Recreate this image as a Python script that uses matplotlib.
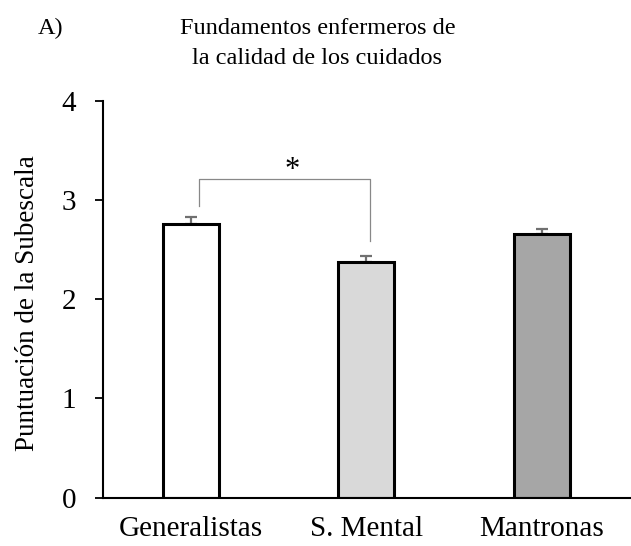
import numpy as np
import matplotlib.pyplot as plt

plt.rcParams['font.family'] = ['Liberation Serif', 'DejaVu Serif']

# Puntuaciones medias por grupo y error estándar (solo hacia arriba)
grupos = ['Generalistas', 'S. Mental', 'Mantronas']
medias = [2.76, 2.38, 2.66]
errores = [0.07, 0.06, 0.05]
colores = ['#ffffff', '#d9d9d9', '#a6a6a6']

# Corchete de significación entre Generalistas y S. Mental
corchete_x = [0.05, 0.05, 1.02, 1.02]
corchete_y = [2.94, 3.21, 3.21, 2.59]

fig = plt.figure(figsize=(6.31, 5.46), dpi=100)
ax = fig.add_axes([0.163, 0.0888, 0.835, 0.726])

x = np.arange(len(grupos))
ax.errorbar(x, medias, yerr=[np.zeros(len(errores)), errores], fmt='none',
            ecolor='#707070', elinewidth=1.6, capsize=4.5, capthick=1.6, zorder=1)
ax.bar(x, medias, width=0.32, color=colores, edgecolor='black', linewidth=2.2, zorder=2)

ax.plot(corchete_x, corchete_y, color='#888888', lw=0.9)
ax.text(0.575, 3.30, '*', ha='center', va='center', fontsize=22)

ax.set_xlim(-0.5, 2.5)
ax.set_ylim(0, 4)
ax.set_yticks([0, 1, 2, 3, 4])
ax.set_xticks(x)
ax.set_xticklabels(grupos)
ax.tick_params(axis='y', labelsize=21, length=6, width=1.3, pad=13)
ax.tick_params(axis='x', labelsize=21, length=0, pad=13)
for lado in ['top', 'right']:
    ax.spines[lado].set_visible(False)
for lado in ['left', 'bottom']:
    ax.spines[lado].set_linewidth(1.5)

ax.set_ylabel('Puntuación de la Subescala', fontsize=19.5)
ax.yaxis.set_label_coords(-0.12, 0.49)

fig.text(0.06, 0.948, 'A)', fontsize=17.5, ha='left', va='center')
fig.text(0.503, 0.948, 'Fundamentos enfermeros de', fontsize=17.5, ha='center', va='center')
fig.text(0.503, 0.893, 'la calidad de los cuidados', fontsize=17.5, ha='center', va='center')

fig.savefig('out.png', dpi=100)
